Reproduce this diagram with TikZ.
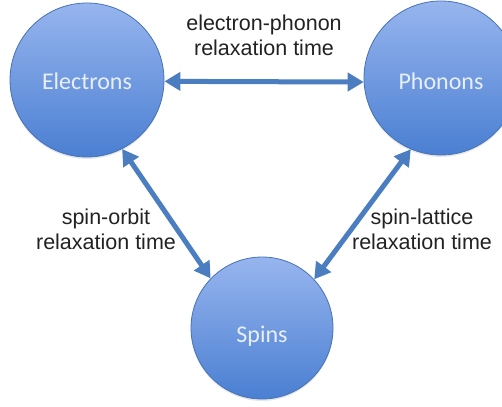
\documentclass[tikz,border=0pt]{standalone}
\usepackage{fontspec}
\setmainfont{Liberation Sans}
\newfontfamily\calib{Carlito}
\usetikzlibrary{arrows.meta,shadows}
\definecolor{circtop}{HTML}{97B5EE}
\definecolor{circbot}{HTML}{4A7FD2}
\definecolor{circedge}{HTML}{4672B6}
\definecolor{arrowblue}{HTML}{4A7EC1}
\definecolor{labwhite}{HTML}{E8EFFA}
\definecolor{txt}{HTML}{222222}
\tikzset{
  ball/.style={circle, draw=circedge, line width=0.8pt, top color=circtop, bottom color=circbot, inner sep=0pt,
    drop shadow={opacity=0.18, shadow xshift=0pt, shadow yshift=-2pt}},
  balllab/.style={anchor=base, text=labwhite, font=\calib\fontsize{24}{28}\selectfont},
  arr/.style={line width=5pt, color=arrowblue, {Triangle[width=18pt,length=16pt]}-{Triangle[width=18pt,length=16pt]}},
  lab/.style={align=center, text=txt, inner sep=0pt, font=\fontsize{21.5}{25}\selectfont}
}
\begin{document}
\begin{tikzpicture}[x=1pt,y=-1pt]
\useasboundingbox (0,0) rectangle (502,406);
\node[ball, minimum size=154pt] (e) at (87,80) {};
\node[ball, minimum size=154pt] (p) at (441,78) {};
\node[ball, minimum size=142pt] (s) at (262,328) {};
\node[balllab] (el) at (87,90) {Electrons};
\node[balllab] (pl) at (441,90) {Phonons};
\node[balllab] (sl) at (262,342) {Spins};
\draw[arr] (e.-1.5) -- (p.-177);
\draw[arr] (e.-63) -- (s.136);
\draw[arr] (p.-113) -- (s.43);
\node[lab] (t1) at (264,35) {electron-phonon\\relaxation time};
\node[lab] (t2) at (106,229) {spin-orbit\\relaxation time};
\node[lab] (t3) at (422,229) {spin-lattice\\relaxation time};
\end{tikzpicture}
\end{document}
